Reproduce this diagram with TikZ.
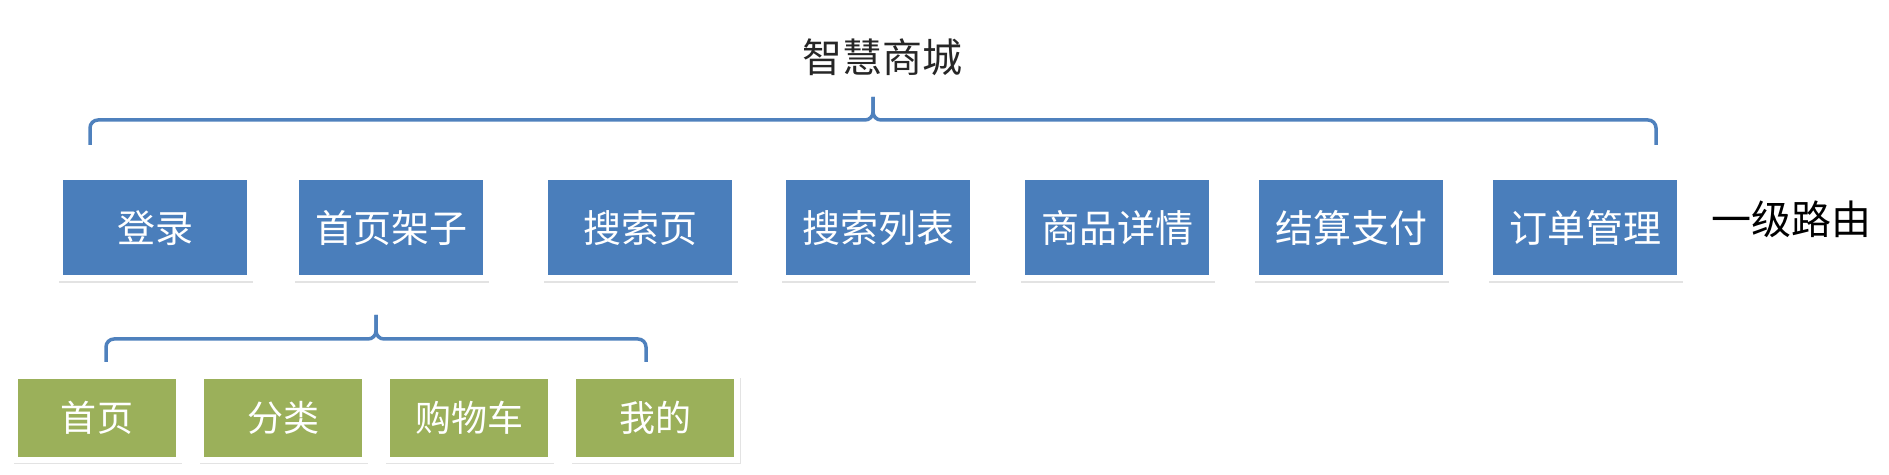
\documentclass[tikz,border=0pt]{standalone}
\usepackage{fontspec}
\newfontfamily\cjk{Noto Sans CJK SC}
\usepackage{tikz}
\usetikzlibrary{positioning, shadows}
\definecolor{routeblue}{RGB}{74,126,187}
\definecolor{routegreen}{RGB}{155,176,90}
\definecolor{braceblue}{RGB}{79,129,189}
\tikzset{toproute/.style={
        draw=white,
        line width=3pt,
        rectangle,
        minimum width=95pt,
        minimum height=50.5pt,
        inner sep=0pt,
        align=center,
        fill=routeblue,
        text=white,
        font=\cjk\fontsize{19pt}{19pt}\selectfont,
        drop shadow={opacity=0.22, shadow xshift=0.5pt, shadow yshift=-1.5pt, shadow scale=1.025}
}}
\tikzset{subroute/.style={
        draw=white,
        line width=3pt,
        rectangle,
        minimum width=82pt,
        minimum height=41.5pt,
        inner sep=0pt,
        align=center,
        fill=routegreen,
        text=white,
        font=\cjk\fontsize{18pt}{18pt}\selectfont,
        drop shadow={opacity=0.22, shadow xshift=0.5pt, shadow yshift=-1.5pt, shadow scale=1.03}
}}
\tikzset{caption/.style={
        inner sep=0pt,
        text=black!85,
        font=\cjk\fontsize{20pt}{20pt}\selectfont
}}
\tikzset{routebrace/.style={draw=braceblue,line width=1.75pt,rounded corners=4pt}}

\begin{document}
\begin{tikzpicture}[x=0.5pt,y=-0.5pt,node distance=21pt]
\useasboundingbox (0,0) rectangle (1889,475);
\node[caption] (mall) at (882,57) {智慧商城};
\node[toproute] (login) at (155,228) {登录};
\node[toproute, right=20pt of login] (frame) {首页架子};
\node[toproute, right=26.5pt of frame] (search) {搜索页};
\node[toproute, right=of search] (list) {搜索列表};
\node[toproute, right=21.5pt of list] (detail) {商品详情};
\node[toproute, right=19pt of detail] (pay) {结算支付};
\node[toproute, right=19pt of pay] (order) {订单管理};
\node[caption, text=black] (level) at (1791,219) {一级路由};

\node[subroute] (home) at (97,418) {首页};
\node[subroute, right=8pt of home] (category) {分类};
\node[subroute, right=8pt of category] (cart) {购物车};
\node[subroute, right=8pt of cart] (mine) {我的};

% braces
\coordinate (bigL) at (90,145);
\coordinate (bigR) at (1656,145);
\coordinate (bigMid) at (873,120);
\coordinate (bigTip) at (873,97);
\draw[routebrace] (bigL) |- (bigMid) -- (bigTip);
\draw[routebrace] (bigR) |- (bigMid) -- (bigTip);

\coordinate (subL) at (106,362);
\coordinate (subR) at (646,362);
\coordinate (subMid) at (376,339);
\coordinate (subTip) at (376,315);
\draw[routebrace] (subL) |- (subMid) -- (subTip);
\draw[routebrace] (subR) |- (subMid) -- (subTip);
\end{tikzpicture}
\end{document}
